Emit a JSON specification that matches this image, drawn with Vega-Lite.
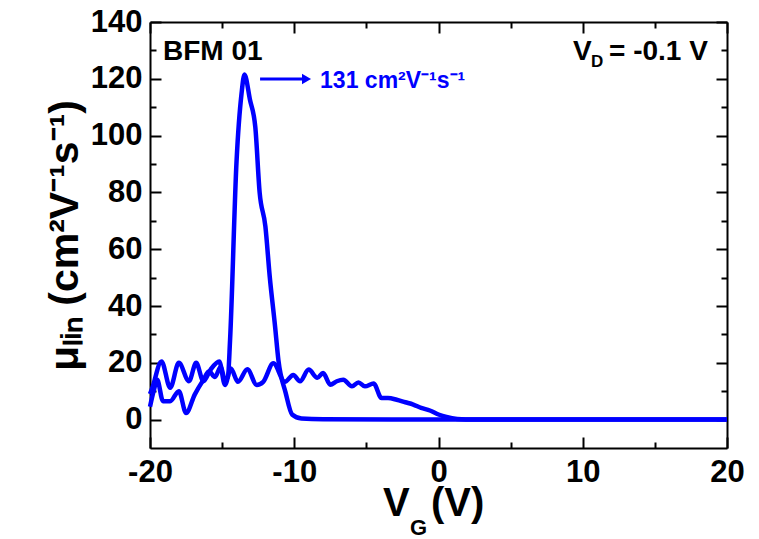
{
  "$schema": "https://vega.github.io/schema/vega-lite/v6.json",
  "width": 577,
  "height": 426,
  "autosize": {"type": "none"},
  "padding": {"left": 150, "top": 22, "right": 32, "bottom": 91},
  "background": "white",
  "config": {
    "view": {"stroke": null},
    "axis": {
      "domainColor": "black",
      "domainWidth": 2,
      "tickColor": "black",
      "tickWidth": 2,
      "grid": false,
      "labelFlush": false,
      "labelFont": "Liberation Sans",
      "labelFontWeight": "bold",
      "labelFontSize": 31,
      "labelColor": "black"
    }
  },
  "datasets": {
    "curves": [
      {"sweep": "A", "vg": -20.0, "mu": 4.5},
      {"sweep": "A", "vg": -19.75, "mu": 10},
      {"sweep": "A", "vg": -19.5, "mu": 14},
      {"sweep": "A", "vg": -19.1, "mu": 6.5},
      {"sweep": "A", "vg": -18.6, "mu": 6.5},
      {"sweep": "A", "vg": -18.0, "mu": 10},
      {"sweep": "A", "vg": -17.5, "mu": 2.3},
      {"sweep": "A", "vg": -16.9, "mu": 8.8},
      {"sweep": "A", "vg": -16.3, "mu": 14},
      {"sweep": "A", "vg": -15.9, "mu": 17},
      {"sweep": "A", "vg": -15.5, "mu": 15},
      {"sweep": "A", "vg": -15.1, "mu": 18.5},
      {"sweep": "A", "vg": -14.8, "mu": 14},
      {"sweep": "A", "vg": -14.6, "mu": 15},
      {"sweep": "A", "vg": -14.45, "mu": 28},
      {"sweep": "A", "vg": -14.0, "mu": 91},
      {"sweep": "A", "vg": -13.65, "mu": 115},
      {"sweep": "A", "vg": -13.45, "mu": 121.5},
      {"sweep": "A", "vg": -13.07, "mu": 112.6},
      {"sweep": "A", "vg": -12.7, "mu": 103},
      {"sweep": "A", "vg": -12.4, "mu": 80},
      {"sweep": "A", "vg": -12.0, "mu": 68},
      {"sweep": "A", "vg": -11.7, "mu": 50.4},
      {"sweep": "A", "vg": -11.33, "mu": 32.8},
      {"sweep": "A", "vg": -11.1, "mu": 21},
      {"sweep": "A", "vg": -10.6, "mu": 9.5},
      {"sweep": "A", "vg": -10.15, "mu": 1.8},
      {"sweep": "A", "vg": -9.5, "mu": 0.4},
      {"sweep": "A", "vg": -8.0, "mu": 0.1},
      {"sweep": "A", "vg": 0.0, "mu": 0.0},
      {"sweep": "A", "vg": 20.0, "mu": 0.0},
      {"sweep": "B", "vg": -20.0, "mu": 9},
      {"sweep": "B", "vg": -19.85, "mu": 11},
      {"sweep": "B", "vg": -19.2, "mu": 20.5},
      {"sweep": "B", "vg": -18.6, "mu": 11.2},
      {"sweep": "B", "vg": -18.0, "mu": 20},
      {"sweep": "B", "vg": -17.3, "mu": 13.5},
      {"sweep": "B", "vg": -16.8, "mu": 20},
      {"sweep": "B", "vg": -16.3, "mu": 13.5},
      {"sweep": "B", "vg": -15.8, "mu": 17.6},
      {"sweep": "B", "vg": -15.2, "mu": 20.5},
      {"sweep": "B", "vg": -14.8, "mu": 12.2},
      {"sweep": "B", "vg": -14.4, "mu": 18},
      {"sweep": "B", "vg": -13.9, "mu": 13.3},
      {"sweep": "B", "vg": -13.25, "mu": 17.7},
      {"sweep": "B", "vg": -12.6, "mu": 12.2},
      {"sweep": "B", "vg": -12.15, "mu": 13.3},
      {"sweep": "B", "vg": -11.45, "mu": 19.8},
      {"sweep": "B", "vg": -10.65, "mu": 13.3},
      {"sweep": "B", "vg": -10.07, "mu": 15.7},
      {"sweep": "B", "vg": -9.6, "mu": 13.5},
      {"sweep": "B", "vg": -9.0, "mu": 17.6},
      {"sweep": "B", "vg": -8.4, "mu": 14.7},
      {"sweep": "B", "vg": -8.0, "mu": 16.4},
      {"sweep": "B", "vg": -7.5, "mu": 12.3},
      {"sweep": "B", "vg": -7.05, "mu": 13.5},
      {"sweep": "B", "vg": -6.6, "mu": 14},
      {"sweep": "B", "vg": -6.0, "mu": 11.7},
      {"sweep": "B", "vg": -5.55, "mu": 13.1},
      {"sweep": "B", "vg": -5.1, "mu": 11.7},
      {"sweep": "B", "vg": -4.5, "mu": 12.7},
      {"sweep": "B", "vg": -3.95, "mu": 7.6},
      {"sweep": "B", "vg": -3.5, "mu": 7.6},
      {"sweep": "B", "vg": -2.9, "mu": 7.0},
      {"sweep": "B", "vg": -2.3, "mu": 6.1},
      {"sweep": "B", "vg": -1.75, "mu": 5.3},
      {"sweep": "B", "vg": -1.2, "mu": 4.1},
      {"sweep": "B", "vg": -0.6, "mu": 3.2},
      {"sweep": "B", "vg": 0.0, "mu": 1.8},
      {"sweep": "B", "vg": 0.55, "mu": 0.9},
      {"sweep": "B", "vg": 1.3, "mu": 0.25},
      {"sweep": "B", "vg": 2.5, "mu": 0.05},
      {"sweep": "B", "vg": 20.0, "mu": 0.0}
    ],
    "blackText": [
      {"x": -19.1, "y": 126.6, "label": "BFM 01"},
      {"x": 9.32, "y": 126.6, "label": "V"},
      {"x": 11.82, "y": 126.6, "label": "= -0.1 V"}
    ],
    "subD": [
      {"x": 10.57, "y": 124.2, "label": "D"}
    ],
    "blueText": [
      {"x": -8.21, "y": 116.8, "label": "131 cm²V⁻¹s⁻¹"}
    ],
    "arrow": [
      {"x": -12.37, "x2": -9.3, "y": 119.9}
    ],
    "arrowHead": [
      {"x": -9.15, "y": 119.9}
    ],
    "xTitleMain": [
      {"x": -3.85, "y": -34.0, "label": "V"},
      {"x": -0.52, "y": -34.0, "label": "(V)"}
    ],
    "xTitleSub": [
      {"x": -1.98, "y": -40.8, "label": "G"}
    ]
  },
  "resolve": {"axis": {"x": "independent", "y": "independent"}},
  "layer": [
    {
      "data": {"name": "curves"},
      "mark": {"type": "line", "color": "#0000ff", "strokeWidth": 4.5, "interpolate": "monotone"},
      "encoding": {
        "x": {
          "field": "vg", "type": "quantitative",
          "scale": {"domain": [-20, 20], "nice": false, "zero": false},
          "axis": {
            "orient": "bottom",
            "values": [-20, -15, -10, -5, 0, 5, 10, 15, 20],
            "labelExpr": "datum.value % 10 === 0 ? '' + datum.value : ''",
            "tickSize": {"condition": {"test": "datum.value % 10 === 0", "value": -11}, "value": -6},
            "labelPadding": 20,
            "title": null
          }
        },
        "y": {
          "field": "mu", "type": "quantitative",
          "scale": {"domain": [-10, 140], "nice": false, "zero": false},
          "axis": {
            "orient": "left",
            "values": [0, 10, 20, 30, 40, 50, 60, 70, 80, 90, 100, 110, 120, 130, 140],
            "labelExpr": "datum.value % 20 === 0 ? '' + datum.value : ''",
            "tickSize": {"condition": {"test": "datum.value % 20 === 0", "value": -11}, "value": -6},
            "labelPadding": 19,
            "title": "μₗᵢₙ (cm²V⁻¹s⁻¹)",
            "titleFont": "Liberation Sans",
            "titleFontSize": 41,
            "titleFontWeight": "bold",
            "titleColor": "black",
            "titlePadding": 4
          }
        },
        "detail": {"field": "sweep"}
      }
    },
    {
      "data": {"name": "blackText"},
      "mark": {"type": "text", "font": "Liberation Sans", "fontWeight": "bold", "fontSize": 28, "color": "black", "align": "left", "baseline": "alphabetic"},
      "encoding": {
        "x": {
          "field": "x", "type": "quantitative",
          "scale": {"domain": [-20, 20], "nice": false, "zero": false},
          "axis": {
            "orient": "top",
            "values": [-20, -15, -10, -5, 0, 5, 10, 15, 20],
            "labels": false,
            "tickSize": {"condition": {"test": "datum.value % 10 === 0", "value": -11}, "value": -6},
            "title": null
          }
        },
        "y": {
          "field": "y", "type": "quantitative",
          "scale": {"domain": [-10, 140], "nice": false, "zero": false},
          "axis": {
            "orient": "right",
            "values": [0, 10, 20, 30, 40, 50, 60, 70, 80, 90, 100, 110, 120, 130, 140],
            "labels": false,
            "tickSize": {"condition": {"test": "datum.value % 20 === 0", "value": -11}, "value": -6},
            "title": null
          }
        },
        "text": {"field": "label"}
      }
    },
    {
      "data": {"name": "subD"},
      "mark": {"type": "text", "font": "Liberation Sans", "fontWeight": "bold", "fontSize": 17, "color": "black", "align": "left", "baseline": "alphabetic"},
      "encoding": {
        "x": {"field": "x", "type": "quantitative", "scale": {"domain": [-20, 20], "nice": false, "zero": false}, "axis": null},
        "y": {"field": "y", "type": "quantitative", "scale": {"domain": [-10, 140], "nice": false, "zero": false}, "axis": null},
        "text": {"field": "label"}
      }
    },
    {
      "data": {"name": "blueText"},
      "mark": {"type": "text", "font": "Liberation Sans", "fontWeight": "bold", "fontSize": 23, "color": "#0000ff", "align": "left", "baseline": "alphabetic"},
      "encoding": {
        "x": {"field": "x", "type": "quantitative", "scale": {"domain": [-20, 20], "nice": false, "zero": false}, "axis": null},
        "y": {"field": "y", "type": "quantitative", "scale": {"domain": [-10, 140], "nice": false, "zero": false}, "axis": null},
        "text": {"field": "label"}
      }
    },
    {
      "data": {"name": "arrow"},
      "mark": {"type": "rule", "color": "#0000ff", "strokeWidth": 3},
      "encoding": {
        "x": {"field": "x", "type": "quantitative", "scale": {"domain": [-20, 20], "nice": false, "zero": false}, "axis": null},
        "x2": {"field": "x2"},
        "y": {"field": "y", "type": "quantitative", "scale": {"domain": [-10, 140], "nice": false, "zero": false}, "axis": null}
      }
    },
    {
      "data": {"name": "arrowHead"},
      "mark": {"type": "point", "shape": "triangle-right", "filled": true, "color": "#0000ff", "size": 110, "opacity": 1},
      "encoding": {
        "x": {"field": "x", "type": "quantitative", "scale": {"domain": [-20, 20], "nice": false, "zero": false}, "axis": null},
        "y": {"field": "y", "type": "quantitative", "scale": {"domain": [-10, 140], "nice": false, "zero": false}, "axis": null}
      }
    },
    {
      "data": {"name": "xTitleMain"},
      "mark": {"type": "text", "font": "Liberation Sans", "fontWeight": "bold", "fontSize": 40, "color": "black", "align": "left", "baseline": "alphabetic"},
      "encoding": {
        "x": {"field": "x", "type": "quantitative", "scale": {"domain": [-20, 20], "nice": false, "zero": false}, "axis": null},
        "y": {"field": "y", "type": "quantitative", "scale": {"domain": [-10, 140], "nice": false, "zero": false}, "axis": null},
        "text": {"field": "label"}
      }
    },
    {
      "data": {"name": "xTitleSub"},
      "mark": {"type": "text", "font": "Liberation Sans", "fontWeight": "bold", "fontSize": 22, "color": "black", "align": "left", "baseline": "alphabetic"},
      "encoding": {
        "x": {"field": "x", "type": "quantitative", "scale": {"domain": [-20, 20], "nice": false, "zero": false}, "axis": null},
        "y": {"field": "y", "type": "quantitative", "scale": {"domain": [-10, 140], "nice": false, "zero": false}, "axis": null},
        "text": {"field": "label"}
      }
    }
  ]
}
